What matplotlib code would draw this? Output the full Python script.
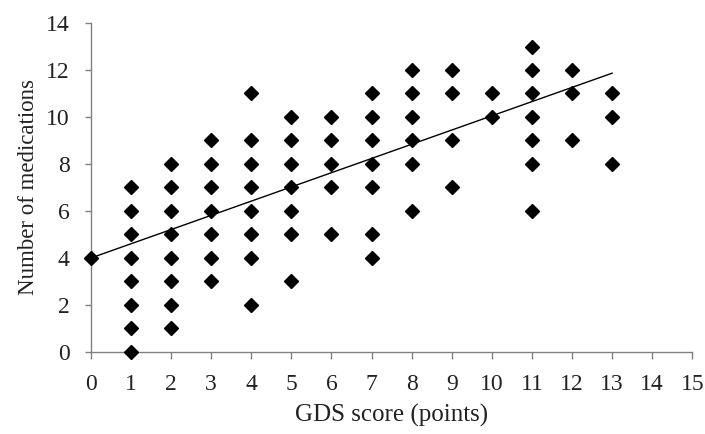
import numpy as np
import matplotlib.pyplot as plt

plt.rcParams['font.family'] = ['Liberation Serif', 'DejaVu Serif']

# GDS score -> list of medication counts observed
gds = [0, 1, 2, 3, 4, 5, 6, 7, 8, 9, 10, 11, 12, 13]
meds = [
    [4],
    [0, 1, 2, 3, 4, 5, 6, 7],
    [1, 2, 3, 4, 5, 6, 7, 8],
    [3, 4, 5, 6, 7, 8, 9],
    [2, 4, 5, 6, 7, 8, 9, 11],
    [3, 5, 6, 7, 8, 9, 10],
    [5, 7, 8, 9, 10],
    [4, 5, 7, 8, 9, 10, 11],
    [6, 8, 9, 10, 11, 12],
    [7, 9, 11, 12],
    [10, 11],
    [6, 8, 9, 10, 11, 12, 13],
    [9, 11, 12],
    [8, 10, 11],
]

# linear trend line
trend_intercept = 4.0
trend_slope = 0.605

x = np.concatenate([[g] * len(m) for g, m in zip(gds, meds)])
y = np.concatenate(meds)

fig = plt.figure(figsize=(7.05, 4.34), dpi=100)
ax = fig.add_axes([0.129, 0.189, 0.853, 0.758])

ax.plot(x, y, linestyle='none', marker='D', markersize=7, color='black', zorder=3,
        clip_on=False)

xt = np.array([min(gds), max(gds)])
ax.plot(xt, trend_intercept + trend_slope * xt, color='black', linewidth=1.0, zorder=2)

ax.set_xlim(0, 15)
ax.set_ylim(0, 14)
ax.set_xticks(range(0, 16))
ax.set_yticks(range(0, 15, 2))

for s in ['top', 'right']:
    ax.spines[s].set_visible(False)
for s in ['left', 'bottom']:
    ax.spines[s].set_color('#808080')
    ax.spines[s].set_linewidth(1.0)
ax.tick_params(axis='both', colors='#808080', labelcolor='#222222', labelsize=17,
               width=1.0, direction='out')
ax.tick_params(axis='x', length=5, pad=11)
ax.tick_params(axis='y', length=4.5, pad=11)

ax.set_xlabel('GDS score (points)', fontsize=18, labelpad=6, color='#222222')
ax.set_ylabel('Number of medications', fontsize=16.5, labelpad=5, color='#222222')

fig.savefig('out.png', dpi=100)
